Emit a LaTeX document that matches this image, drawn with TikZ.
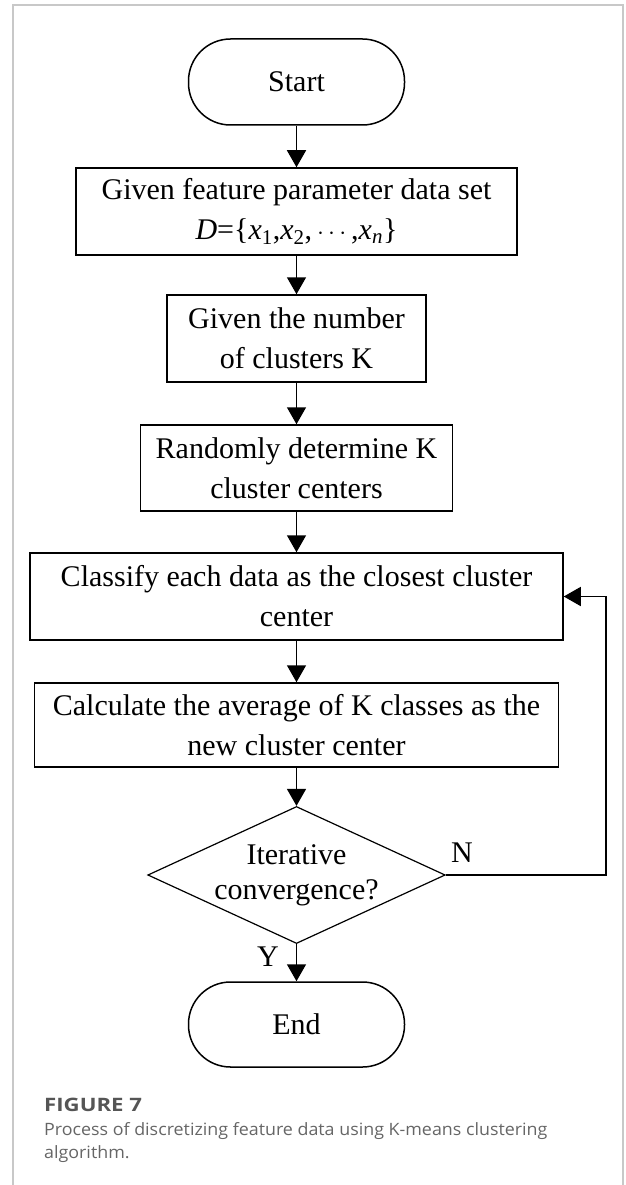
\documentclass[tikz,border=0pt]{standalone}
\usepackage{fontspec}
\setmainfont{Liberation Serif}
\newfontfamily\capfont[FakeStretch=1.05]{Open Sans}
\newfontfamily\captitlefont[FakeStretch=1.2]{Open Sans}
\usetikzlibrary{shapes.geometric,arrows.meta}
\definecolor{framegray}{HTML}{C8C8C8}
\definecolor{captitlegray}{HTML}{555555}
\definecolor{capgray}{HTML}{666666}
\tikzset{
  flowline/.style={line width=1.5pt, -{Triangle[length=17pt,width=19pt]}},
  procbox/.style={draw, line width=1.5pt, rectangle, inner sep=0pt, align=center,
    font=\fontsize{30}{40}\selectfont},
  termbox/.style={procbox, rounded corners=42pt},
  decbox/.style={draw, line width=1.2pt, diamond, aspect=2.17, inner sep=0pt,
    align=center, font=\fontsize{30}{35}\selectfont},
  lbl/.style={font=\fontsize{30}{36}\selectfont, inner sep=0pt},
  captitle/.style={font=\captitlefont\bfseries\fontsize{18.5}{23}\selectfont, text=captitlegray,
    inner sep=0pt, anchor=base west},
  captext/.style={font=\capfont\fontsize{17}{23}\selectfont, text=capgray,
    inner sep=0pt, anchor=base west},
}
\begin{document}
\begin{tikzpicture}[x=1pt,y=-1pt]
\useasboundingbox (0,0) rectangle (625,1185);
\fill[white] (0,0) rectangle (625,1185);
\draw[framegray, line width=1.2pt] (13,1185) -- (13,5) -- (623,5) -- (623,1185);

\node[termbox, minimum width=216pt, minimum height=86pt] (start) at (296.5,82) {Start};
\node[procbox, minimum width=441pt, minimum height=87pt] (b1) at (296.5,211.5)
  {Given feature parameter data set\\
   {\itshape D}=\{{\itshape x}\textsubscript{1},{\itshape x}\textsubscript{2},\,$\cdots$\,,{\itshape x\textsubscript{n}}\}};
\node[procbox, minimum width=259pt, minimum height=87pt] (b2) at (296.5,338.5)
  {Given the number\\of clusters K};
\node[procbox, minimum width=312pt, minimum height=86pt] (b3) at (296.5,468)
  {Randomly determine K\\cluster centers};
\node[procbox, minimum width=533pt, minimum height=87pt] (b4) at (296.5,596.5)
  {Classify each data as the closest cluster\\center};
\node[procbox, minimum width=524pt, minimum height=84pt] (b5) at (296.5,725)
  {Calculate the average of K classes as the\\new cluster center};
\node[decbox, minimum width=297pt, minimum height=137pt] (dec) at (296.5,875)
  {Iterative\\convergence?};
\node[termbox, minimum width=216pt, minimum height=85pt] (end) at (296.5,1024.5) {End};

\coordinate (fbr) at (606,875);
\coordinate (fbt) at (606,596.5);

\draw[flowline] (start) -- (b1);
\draw[flowline] (b1) -- (b2);
\draw[flowline] (b2) -- (b3);
\draw[flowline] (b3) -- (b4);
\draw[flowline] (b4) -- (b5);
\draw[flowline] (b5) -- (dec);
\draw[flowline] (dec) -- (end);
\draw[flowline] (dec.east) -- (fbr) -- (fbt) -- (b4.east);

\node[lbl] (nlab) at (462,853) {N};
\node[lbl] (ylab) at (268,957) {Y};

\node[captitle] (cap1) at (44,1111) {FIGURE 7};
\node[captext] (cap2) at (44,1135) {Process of discretizing feature data using K-means clustering};
\node[captext] (cap3) at (44,1158) {algorithm.};
\end{tikzpicture}
\end{document}
